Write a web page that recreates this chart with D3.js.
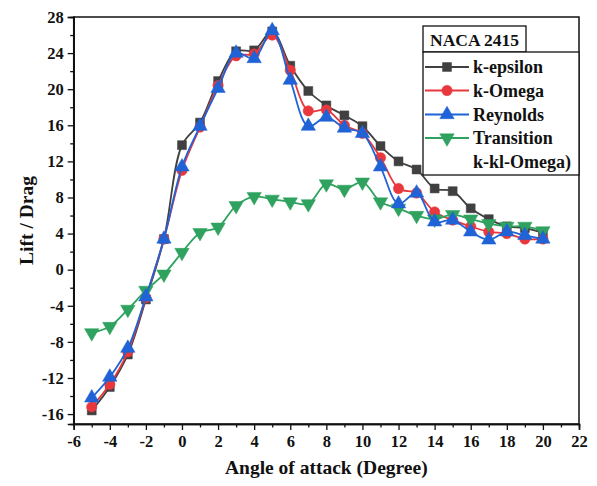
<!DOCTYPE html>
<html><head><meta charset="utf-8">
<script src="https://cdn.jsdelivr.net/npm/d3@7"></script>
<style>
html,body{margin:0;padding:0;background:#fff;}
svg{display:block;}
text{font-family:"Liberation Serif","Times New Roman",serif;font-weight:bold;fill:#111;}
</style></head>
<body>
<svg id="chart" width="597" height="486"></svg>
<script>
const angles = [-5,-4,-3,-2,-1,0,1,2,3,4,5,6,7,8,9,10,11,12,13,14,15,16,17,18,19,20];
const kEpsilon   = [-15.6,-13.0,-9.4,-3.3,3.4,13.8,16.3,20.9,24.2,24.3,26.4,22.6,19.8,18.2,17.1,15.9,13.7,12.0,11.1,9.0,8.7,6.8,5.6,4.8,4.6,4.1];
const kOmega     = [-15.2,-12.7,-9.1,-3.1,3.4,11.0,15.8,20.4,23.7,23.9,26.0,22.1,17.6,17.7,16.0,15.1,12.4,9.0,8.5,6.4,5.5,4.8,4.2,4.0,3.4,3.4];
const reynolds   = [-14.2,-11.9,-8.7,-3.0,3.4,11.4,15.9,20.1,24.0,23.4,26.5,21.0,15.9,16.9,15.7,15.1,11.4,7.3,8.5,5.3,5.5,4.2,3.3,4.2,3.8,3.4];
const transition = [-7.0,-6.3,-4.4,-2.3,-0.5,1.9,4.1,4.7,7.1,8.1,7.8,7.5,7.3,9.5,8.9,9.7,7.5,6.8,6.0,5.6,6.1,5.6,5.1,4.8,4.8,4.3];
const seriesNames = ["k-epsilon","k-Omega","Reynolds","Transition"];
const seriesColors = ["#404040","#e8383d","#1f63d6","#2ea25e"];
const seriesSymbols = ["square","circle","triangle","triangleDown"];
const xTicks = [-6,-4,-2,0,2,4,6,8,10,12,14,16,18,20,22];
const yTicks = [-16,-12,-8,-4,0,4,8,12,16,20,24,28];
const legendTitle = "NACA 2415";
const legendExtra = "k-kl-Omega)";
const xTitle = "Angle of attack (Degree)";
const yTitle = "Lift / Drag";

const seriesData = [kEpsilon,kOmega,reynolds,transition];
const svg = d3.select("#chart");
const L=73.7, R=579, T=17, B=424;
const x = d3.scaleLinear().domain([-6,22]).range([L,R]);
const y = d3.scaleLinear().domain([-17.1,28]).range([B,T]);

// frame
svg.append("rect").attr("x",L).attr("y",T).attr("width",R-L).attr("height",B-T)
  .attr("fill","none").attr("stroke","#111").attr("stroke-width",1.5);

const fmt = d => String(d);
const xAxis = d3.axisBottom(x).tickValues(xTicks).tickSize(6).tickPadding(5).tickFormat(fmt);
const xMinor = d3.axisBottom(x).tickValues(d3.range(-5,22,2)).tickSize(3.5).tickFormat("");
const yAxis = d3.axisLeft(y).tickValues(yTicks).tickSize(6).tickPadding(4).tickFormat(fmt);
const yMinor = d3.axisLeft(y).tickValues(d3.range(-14,28,4)).tickSize(3.5).tickFormat("");

function styleAxis(g){
  g.select(".domain").attr("stroke","#111").attr("stroke-width",1.5);
  g.selectAll(".tick line").attr("stroke","#111").attr("stroke-width",1.3);
  g.selectAll(".tick text").style("font-family","Liberation Serif, serif").style("font-weight","bold").style("font-size","16.5px").attr("fill","#111");
}
svg.append("g").attr("transform",`translate(0,${B})`).call(xAxis).call(styleAxis);
svg.append("g").attr("transform",`translate(0,${B})`).call(xMinor).call(styleAxis);
svg.append("g").attr("transform",`translate(${L},0)`).call(yAxis).call(styleAxis);
svg.append("g").attr("transform",`translate(${L},0)`).call(yMinor).call(styleAxis);

// titles
svg.append("text").attr("x",(L+R)/2).attr("y",474).attr("text-anchor","middle")
  .style("font-size","19.5px").text(xTitle);
svg.append("text").attr("transform",`translate(33,${(T+B)/2}) rotate(-90)`).attr("text-anchor","middle")
  .style("font-size","19.5px").text(yTitle);

const symMap = {square:d3.symbolSquare, circle:d3.symbolCircle, triangle:d3.symbolTriangle, triangleDown:d3.symbolTriangle};
function drawSymbol(g, type, cx, cy, color){
  const size = type==="circle" ? 85 : (type==="square" ? 80 : 90);
  const p = g.append("path").attr("d", d3.symbol().type(symMap[type]).size(size)())
    .attr("fill",color).attr("stroke",color).attr("stroke-width",0.5);
  if(type==="triangleDown") p.attr("transform",`translate(${cx},${cy}) rotate(180)`);
  else p.attr("transform",`translate(${cx},${cy})`);
}

const line = d3.line().x((d,i)=>x(angles[i])).y(d=>y(d)).curve(d3.curveCatmullRom.alpha(0.5));
const plot = svg.append("g");
const order = [0,1,3,2];
order.forEach(s=>{
  plot.append("path").datum(seriesData[s]).attr("d",line)
    .attr("fill","none").attr("stroke",seriesColors[s]).attr("stroke-width",1.8);
  const g = plot.append("g");
  seriesData[s].forEach((v,i)=>drawSymbol(g, seriesSymbols[s], x(angles[i]), y(v), seriesColors[s]));
});

// legend
const lg = svg.append("g");
lg.append("rect").attr("x",423).attr("y",26).attr("width",103).attr("height",26)
  .attr("fill","#fff").attr("stroke","#111").attr("stroke-width",1.3);
lg.append("text").attr("x",474.5).attr("y",45.5).attr("text-anchor","middle").style("font-size","17.5px").text(legendTitle);
lg.append("rect").attr("x",423).attr("y",52).attr("width",R-423).attr("height",123)
  .attr("fill","#fff").attr("stroke","#111").attr("stroke-width",1.3);
const rowsY = [67,90.5,114.5,138];
seriesNames.forEach((n,s)=>{
  const yy = rowsY[s];
  lg.append("line").attr("x1",425).attr("x2",469).attr("y1",yy).attr("y2",yy)
    .attr("stroke",seriesColors[s]).attr("stroke-width",1.8);
  drawSymbol(lg, seriesSymbols[s], 447, yy, seriesColors[s]);
  lg.append("text").attr("x",473).attr("y",yy+6).style("font-size","18px").text(n);
});
lg.append("text").attr("x",473).attr("y",168).style("font-size","18px").text(legendExtra);
</script>
</body></html>
